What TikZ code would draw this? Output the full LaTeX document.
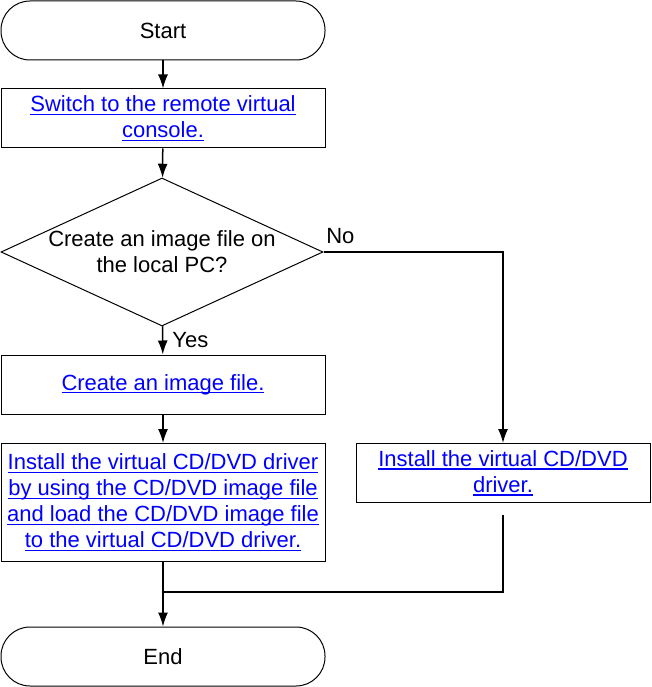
\documentclass[tikz,border=0pt]{standalone}
\usepackage{fontspec}
\setmainfont{Liberation Sans}
\usepackage{xcolor}
\usepackage{tikz}
\usetikzlibrary{shapes.geometric,arrows.meta}
\tikzset{>={Latex[length=14pt,width=10pt]}}
\definecolor{linkblue}{RGB}{0,0,255}
\newsavebox{\linkbox}
\newcommand{\linktext}[1]{{\color{linkblue}\sbox{\linkbox}{#1}\rlap{\rule[-3.3pt]{\wd\linkbox}{1.2pt}}\usebox{\linkbox}}}

\begin{document}
\begin{tikzpicture}[x=1pt,y=-1pt,
		every node/.style={font=\fontsize{22}{26}\selectfont},
		terminal/.style={draw, line width=1pt, rectangle, rounded corners=29pt, minimum width=324pt, minimum height=59pt},
		process/.style={draw, line width=1pt, rectangle, align=center, minimum width=324pt, minimum height=59pt, inner sep=0pt},
		decision/.style={draw, line width=1pt, diamond, minimum width=322pt, minimum height=148pt, inner sep=0pt},
		flow/.style={line width=1.5pt}]
		\useasboundingbox (0,0) rectangle (651,687);
		\node[terminal] (start) at (163,30.5) {Start};
		\node[process] (switch) at (163,118.5) {\linktext{Switch to the remote virtual}\\\linktext{console.}};
		\node[decision] (decide) at (162,252) {};
		\node[align=center] (question) at (decide) {Create an image file on\\the local PC?};
		\node[process] (create) at (163,384.5) {\linktext{Create an image file.}};
		\node[process, minimum height=118pt] (load) at (163,502.5) {\linktext{Install the virtual CD/DVD driver}\\\linktext{by using the CD/DVD image file}\\\linktext{and load the CD/DVD image file}\\\linktext{to the virtual CD/DVD driver.}};
		\node[process, minimum width=294pt] (driver) at (503,473) {\linktext{Install the virtual CD/DVD}\\\linktext{driver.}};
		\node[terminal] (finish) at (163,656.5) {End};
		\coordinate (join) at (163,592);
		\draw[flow, ->] (start) -- (switch);
		\draw[flow, ->] (switch) -- (decide);
		\draw[flow, ->] (decide) -- node[right, inner xsep=9pt] (yes) {Yes} (create);
		\draw[flow, ->] (decide.east) -| node[pos=0, anchor=south west, inner xsep=2pt, inner ysep=8pt] (no) {No} (driver);
		\draw[flow, ->] (create) -- (load);
		\draw[flow, ->] (load) -- (finish);
		\draw[flow, shorten <=12pt] (driver) |- (join);
	\end{tikzpicture}
\end{document}
